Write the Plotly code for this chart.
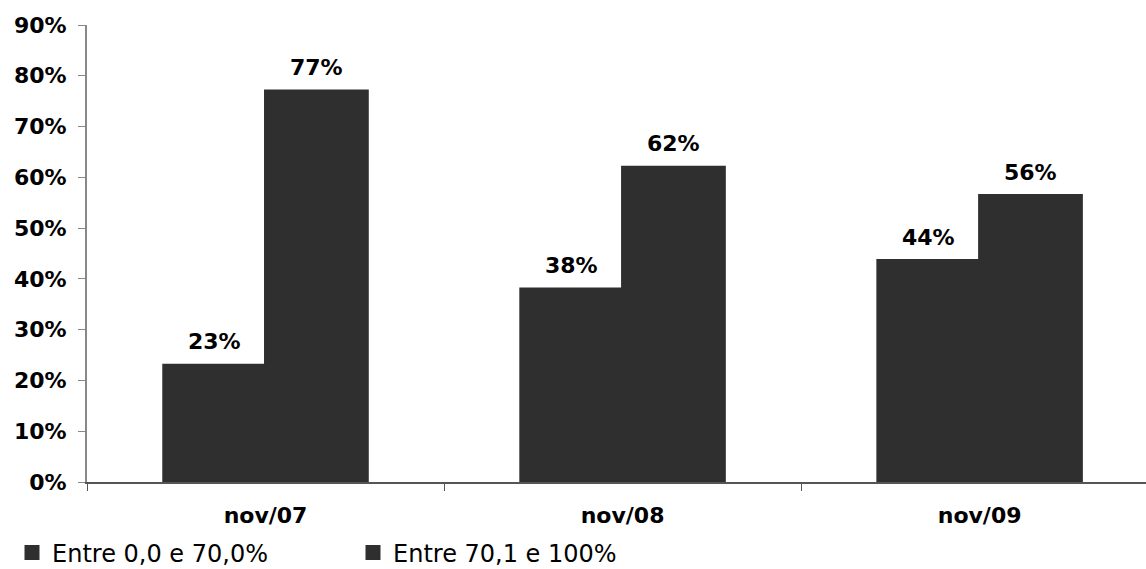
import plotly.graph_objects as go

categories = ["nov/07", "nov/08", "nov/09"]
series_names = ["Entre 0,0 e 70,0%", "Entre 70,1 e 100%"]
serie1 = [23, 38, 43.6]
serie2 = [77, 62, 56.4]
y_ticks = [0, 10, 20, 30, 40, 50, 60, 70, 80, 90]

FONT = "DejaVu Sans"
BAR_COLOR = "#2f2f2f"

fig = go.Figure()
for name, vals in zip(series_names, [serie1, serie2]):
    fig.add_trace(go.Bar(
        x=categories, y=vals, name=name,
        marker=dict(color=BAR_COLOR, line=dict(width=3, color=BAR_COLOR)),
    ))

offsets = [-51, 51]
for off, vals in zip(offsets, [serie1, serie2]):
    for c, v in zip(categories, vals):
        fig.add_annotation(
            x=c, y=v, text=f"<b>{v:.0f}%</b>", showarrow=False,
            xshift=off, yanchor="bottom", yshift=9,
            font=dict(family=FONT, size=22, color="#000"),
        )

fig.update_layout(
    width=1146, height=569,
    margin=dict(l=87, r=0, t=25, b=87, autoexpand=False),
    paper_bgcolor="white", plot_bgcolor="white",
    barmode="group", bargap=0.43, bargroupgap=0,
    font=dict(family=FONT, color="#000"),
    showlegend=True,
    legend=dict(
        orientation="h", xref="container", yref="container",
        x=12 / 1146, y=1 - 553 / 569, xanchor="left", yanchor="middle",
        font=dict(family=FONT, size=24, color="#000"),
        entrywidth=296, entrywidthmode="pixels",
    ),
    xaxis=dict(
        type="category", range=[-0.5, 2.466],
        showline=True, linecolor="#555555", linewidth=2,
        ticks="outside", tickson="boundaries", ticklen=7, tickcolor="#555555",
        tickfont=dict(family=FONT, size=22, color="#000"),
        ticklabelstandoff=13,
        tickprefix="<b>", ticksuffix="</b>",
        showgrid=False, zeroline=False,
    ),
    yaxis=dict(
        range=[0, 90], tickvals=y_ticks, ticktext=[f"<b>{t}%</b>" for t in y_ticks],
        showline=True, linecolor="#888888", linewidth=2,
        ticks="outside", ticklen=7, tickcolor="#888888",
        tickfont=dict(family=FONT, size=22, color="#000"),
        ticklabelstandoff=7,
        showgrid=False, zeroline=False,
    ),
)

fig.write_html(
    "out.html",
    config={"displayModeBar": False},
    post_script="document.body.style.margin='0';document.body.style.padding='0';",
)
